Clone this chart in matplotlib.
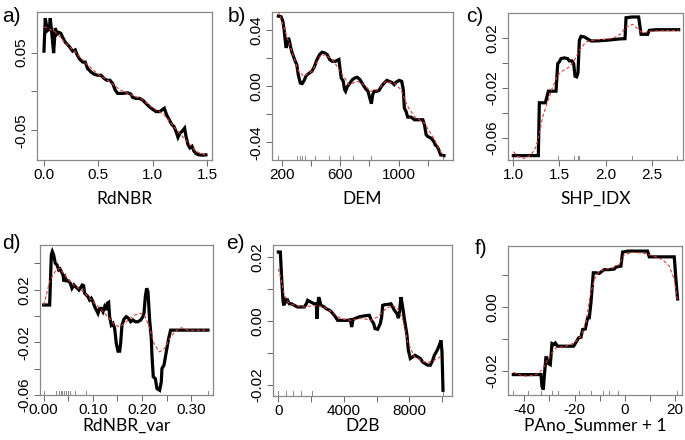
import matplotlib.pyplot as plt

# a) RdNBR
rdnbr_x = [0.0, 0.012, 0.031, 0.049, 0.058, 0.074, 0.089, 0.104, 0.120, 0.135, 0.156, 0.172, 0.196, 0.233,
           0.264, 0.288, 0.301, 0.325, 0.356, 0.380, 0.402, 0.432, 0.463, 0.494, 0.524, 0.555, 0.577, 0.607,
           0.632, 0.656, 0.678, 0.724, 0.770, 0.800, 0.816, 0.846, 0.877, 0.908, 0.938, 0.969, 1.000, 1.031,
           1.067, 1.086, 1.107, 1.129, 1.153, 1.178, 1.196, 1.215, 1.233, 1.251, 1.270, 1.294, 1.307, 1.325,
           1.343, 1.362, 1.380, 1.398, 1.423, 1.460, 1.490]
rdnbr_y = [0.0517, 0.0941, 0.078, 0.080, 0.0941, 0.0717, 0.0492, 0.0814, 0.0738, 0.0759, 0.0746, 0.0695,
           0.0632, 0.0577, 0.0517, 0.0534, 0.0483, 0.0420, 0.0377, 0.0377, 0.0293, 0.0250, 0.0220, 0.0208,
           0.0208, 0.0165, 0.0144, 0.0144, 0.0102, 0.0017, -0.0025, -0.0025, -0.0017, -0.0034, -0.0076,
           -0.0089, -0.0089, -0.0110, -0.0153, -0.0195, -0.0229, -0.0259, -0.0259, -0.0237, -0.0216, -0.0301,
           -0.0365, -0.0428, -0.0449, -0.0513, -0.0589, -0.0534, -0.0513, -0.0471, -0.0577, -0.0683, -0.0725,
           -0.0704, -0.0767, -0.0797, -0.0814, -0.0818, -0.0814]
rdnbr_sx = [0.0, 0.1, 0.2, 0.3, 0.4, 0.5, 0.6, 0.7, 0.8, 0.9, 1.0, 1.1, 1.2, 1.3, 1.4, 1.49]
rdnbr_sy = [0.083, 0.077, 0.062, 0.049, 0.034, 0.022, 0.013, 0.002, -0.004, -0.010, -0.021, -0.029,
            -0.046, -0.062, -0.077, -0.082]

# b) DEM
dem_x = [175, 193, 205, 214, 221, 228, 237, 244, 251, 260, 269, 278, 290, 301, 311, 325, 338, 352, 366, 382,
         405, 421, 440, 458, 474, 490, 509, 527, 543, 567, 590, 597, 606, 620, 629, 636, 647, 666, 682, 700,
         716, 735, 751, 774, 790, 802, 813, 822, 832, 850, 866, 882, 901, 919, 935, 952, 970, 981, 1004, 1021,
         1032, 1039, 1051, 1062, 1085, 1108, 1131, 1166, 1177, 1189, 1200, 1223, 1242, 1251, 1265, 1276,
         1288, 1311]
dem_y = [0.0497, 0.0493, 0.0462, 0.0402, 0.0331, 0.0271, 0.0307, 0.0343, 0.0319, 0.0271, 0.0236, 0.0212,
         0.0176, 0.0152, 0.0081, 0.0021, 0.0017, 0.0040, 0.0074, 0.0088, 0.0105, 0.0136, 0.0188, 0.0224,
         0.0240, 0.0236, 0.0224, 0.0188, 0.0176, 0.0176, 0.0188, 0.0129, 0.0057, 0.0033, -0.0026, -0.0038,
         -0.0007, 0.0021, 0.0045, 0.0057, 0.0062, 0.0045, 0.0017, -0.0021, -0.0038, -0.0086, -0.0126,
         -0.0062, -0.0038, -0.0038, -0.0031, -0.0002, 0.0021, 0.0040, 0.0033, 0.0026, 0.0010, 0.0026, 0.0040,
         0.0033, -0.0026, -0.0157, -0.0181, -0.0221, -0.0221, -0.0240, -0.0240, -0.0240, -0.0276, -0.0347,
         -0.0359, -0.0371, -0.0395, -0.0419, -0.0431, -0.0455, -0.0490, -0.0495]
dem_sx = [175, 232, 278, 313, 348, 405, 463, 497, 555, 613, 659, 716, 762, 809, 855, 912, 970, 1016, 1062,
          1108, 1177, 1247, 1304]
dem_sy = [0.0533, 0.0355, 0.0212, 0.0105, 0.0069, 0.0105, 0.0212, 0.0224, 0.0176, 0.0081, 0.0010, 0.0033,
          0.0010, -0.0038, -0.0026, 0.0033, 0.0021, -0.0026, -0.0145, -0.0217, -0.0264, -0.0383, -0.0502]
dem_rug = [175, 301, 320, 336, 357, 424, 520, 596, 686, 813, 1306]

# c) SHP_IDX
shp_x = [1.000, 1.271, 1.282, 1.347, 1.380, 1.463, 1.481, 1.499, 1.517, 1.553, 1.589, 1.607, 1.636, 1.654,
         1.669, 1.687, 1.701, 1.716, 1.734, 1.770, 1.806, 1.842, 1.897, 2.005, 2.077, 2.150, 2.211, 2.222,
         2.287, 2.359, 2.385, 2.457, 2.475, 2.547, 2.793]
shp_y = [-0.0741, -0.0741, -0.0317, -0.0317, -0.0224, -0.0224, -0.0003, 0.0011, 0.0037, 0.0043, 0.0037,
         0.0019, 0.0019, -0.0003, -0.0104, -0.0109, -0.0077, 0.0184, 0.0216, 0.0211, 0.0195, 0.0179, 0.0179,
         0.0184, 0.0189, 0.0195, 0.0197, 0.0365, 0.0371, 0.0371, 0.0232, 0.0232, 0.0264, 0.0269, 0.0269]
shp_sx = [1.000, 1.047, 1.119, 1.192, 1.246, 1.282, 1.318, 1.372, 1.427, 1.481, 1.535, 1.607, 1.662, 1.716,
          1.788, 1.897, 2.005, 2.095, 2.168, 2.222, 2.294, 2.348, 2.403, 2.511, 2.793]
shp_sy = [-0.0709, -0.0749, -0.0763, -0.0736, -0.0669, -0.0563, -0.0429, -0.0309, -0.0189, -0.0096,
          -0.0061, -0.0029, 0.0024, 0.0104, 0.0171, 0.0189, 0.0192, 0.0205, 0.0237, 0.0291, 0.0312, 0.0277,
          0.0243, 0.0259, 0.0264]
shp_rug = [1.0, 1.48, 1.66, 1.70, 1.71, 2.29, 2.78]

# d) RdNBR_var
var_x = [0.0, 0.0122, 0.0156, 0.0176, 0.0203, 0.0237, 0.0271, 0.0305, 0.0332, 0.0359, 0.0393, 0.0413,
         0.0440, 0.0467, 0.0508, 0.0542, 0.0575, 0.0616, 0.0643, 0.0684, 0.0718, 0.0751, 0.0785, 0.0812,
         0.0833, 0.0867, 0.0900, 0.0934, 0.0968, 0.1002, 0.1036, 0.1070, 0.1104, 0.1137, 0.1171, 0.1205,
         0.1239, 0.1273, 0.1293, 0.1320, 0.1340, 0.1374, 0.1408, 0.1442, 0.1476, 0.1510, 0.1544, 0.1564,
         0.1591, 0.1632, 0.1679, 0.1726, 0.1767, 0.1814, 0.1862, 0.1916, 0.1970, 0.2017, 0.2038, 0.2065,
         0.2092, 0.2119, 0.2153, 0.2187, 0.2200, 0.2227, 0.2268, 0.2302, 0.2356, 0.2390, 0.2403, 0.2444,
         0.2491, 0.2539, 0.2579, 0.3338]
var_y = [0.0084, 0.0084, 0.0465, 0.0490, 0.0465, 0.0401, 0.0389, 0.0351, 0.0358, 0.0338, 0.0312, 0.0262,
         0.0292, 0.0267, 0.0267, 0.0249, 0.0211, 0.0236, 0.0224, 0.0211, 0.0198, 0.0216, 0.0236, 0.0231,
         0.0173, 0.0160, 0.0147, 0.0122, 0.0135, 0.0109, 0.0071, 0.0046, 0.0020, 0.0058, 0.0058, 0.0033,
         0.0071, 0.0046, 0.0097, 0.0104, -0.0005, -0.0069, -0.0056, -0.0094, -0.0208, -0.0267, -0.0267,
         -0.0208, -0.0069, -0.0023, -0.0005, -0.0018, -0.0043, -0.0030, -0.0043, -0.0043, -0.0030, -0.0005,
         0.0020, 0.0147, 0.0211, 0.0185, -0.0030, -0.0170, -0.0297, -0.0462, -0.0475, -0.0551, -0.0564,
         -0.0500, -0.0399, -0.0373, -0.0272, -0.0170, -0.0107, -0.0107]
var_sx = [0.0, 0.0054, 0.0122, 0.0190, 0.0257, 0.0325, 0.0427, 0.0562, 0.0765, 0.0968, 0.1171, 0.1307,
          0.1442, 0.1544, 0.1679, 0.1848, 0.1984, 0.2065, 0.2153, 0.2254, 0.2356, 0.2458, 0.2559, 0.2661,
          0.2796, 0.2931, 0.3338]
var_sy = [0.0084, 0.0160, 0.0262, 0.0312, 0.0351, 0.0363, 0.0312, 0.0249, 0.0198, 0.0122, 0.0046, -0.0005,
          -0.0069, -0.0081, -0.0043, 0.0008, 0.0020, -0.0005, -0.0094, -0.0221, -0.0272, -0.0246, -0.0170,
          -0.0119, -0.0089, -0.0107, -0.0107]
var_rug = [0.0, 0.0257, 0.0305, 0.0345, 0.0379, 0.0413, 0.0454, 0.0494, 0.0542, 0.0630, 0.0853, 0.334]

# e) D2B
d2b_x = [0, 122, 204, 285, 326, 407, 468, 570, 672, 814, 977, 1181, 1384, 1588, 1710, 1792, 1893, 2036, 2199,
         2321, 2362, 2402, 2464, 2525, 2606, 2810, 2911, 3115, 3217, 3420, 3624, 3929, 4235, 4398, 4479,
         4561, 4744, 4947, 5253, 5558, 5660, 5823, 5904, 6067, 6230, 6312, 6373, 6474, 6678, 6882, 6983,
         7085, 7248, 7330, 7391, 7492, 7594, 7696, 7859, 7940, 8063, 8205, 8348, 8510, 8673, 8816, 8958,
         9121, 9284, 9427, 9528, 9651, 9732, 9834, 9936, 9997, 10058]
d2b_y = [0.0217, 0.0217, 0.0133, 0.0065, 0.0049, 0.0072, 0.0060, 0.0065, 0.0054, 0.0054, 0.0049, 0.0044,
         0.0044, 0.0044, 0.0054, 0.0065, 0.0062, 0.0058, 0.0054, 0.0054, 0.0007, 0.0044, 0.0075, 0.0065,
         0.0049, 0.0044, 0.0039, 0.0034, 0.0030, 0.0018, 0.0002, 0.0002, 0.0002, 0.0004, -0.0019, 0.0005,
         0.0009, 0.0013, 0.0016, 0.0018, 0.0005, -0.0008, -0.0024, -0.0026, -0.0008, 0.0013, 0.0049, 0.0051,
         0.0052, 0.0054, 0.0044, 0.0034, 0.0023, 0.0009, 0.0023, 0.0075, 0.0044, 0.0007, -0.0045, -0.0092,
         -0.0118, -0.0113, -0.0108, -0.0113, -0.0118, -0.0129, -0.0134, -0.0139, -0.0139, -0.0124, -0.0108,
         -0.0097, -0.0089, -0.0076, -0.0061, -0.0097, -0.0218]
d2b_sx = [0, 163, 366, 570, 977, 1588, 2199, 2810, 3420, 3828, 4438, 5049, 5660, 6067, 6576, 6983, 7289,
          7594, 7900, 8307, 8918, 9325, 9732, 10038]
d2b_sy = [0.0164, 0.0133, 0.0081, 0.0060, 0.0049, 0.0044, 0.0049, 0.0044, 0.0023, 0.0007, 0.0002, 0.0009,
          0.0002, 0.0013, 0.0039, 0.0049, 0.0039, 0.0007, -0.0066, -0.0113, -0.0129, -0.0129, -0.0118,
          -0.0108]
d2b_rug = [0, 450, 900, 1400, 2040, 10058]

# f) PAno_Summer + 1
pano_x = [-44.38, -33.37, -32.97, -32.44, -32.04, -31.37, -30.31, -29.65, -28.99, -28.32, -27.66, -26.73,
          -25.40, -22.75, -20.36, -19.43, -18.37, -17.44, -16.78, -15.72, -14.79, -14.12, -13.46, -12.53,
          -11.47, -10.14, -9.08, -8.15, -6.16, -4.17, -3.51, -1.52, -0.85, 1.14, 5.78, 9.10, 9.76, 13.74,
          16.40, 19.72, 20.38, 21.04]
pano_y = [-0.0211, -0.0211, -0.0248, -0.0258, -0.0216, -0.0154, -0.0177, -0.0180, -0.0114, -0.0117,
          -0.0112, -0.0122, -0.0122, -0.0122, -0.0122, -0.0110, -0.0096, -0.0094, -0.0070, -0.0068, -0.0033,
          -0.0033, 0.0014, 0.0108, 0.0108, 0.0106, 0.0113, 0.0118, 0.0118, 0.0120, 0.0126, 0.0129, 0.0173,
          0.0176, 0.0176, 0.0176, 0.0158, 0.0158, 0.0158, 0.0158, 0.0087, 0.0026]
pano_sx = [-44.38, -41.99, -39.34, -36.68, -34.03, -32.04, -30.05, -27.39, -23.41, -20.10, -17.44, -15.45,
           -13.86, -12.13, -10.14, -7.49, -4.83, -2.18, -0.19, 3.13, 7.11, 11.09, 15.07, 17.72, 19.72, 21.04]
pano_sy = [-0.0204, -0.0211, -0.0216, -0.0214, -0.0206, -0.0185, -0.0154, -0.0127, -0.0122, -0.0112,
           -0.0091, -0.0049, 0.0034, 0.0087, 0.0113, 0.0120, 0.0123, 0.0134, 0.0165, 0.0172, 0.0170, 0.0162,
           0.0149, 0.0129, 0.0087, 0.0019]
pano_rug = [-44.4, -38.7, -33.4, -29.0, -26.7, -18.1, -13.5, -8.8, -6.4, -2.8, 20.9]

W, H = 685, 440
fig = plt.figure(figsize=(6.85, 4.40), dpi=100)

# panel: (letter, xlabel, x, y, sx, sy, rug, box px (l, t, r, b), xlim, ylim, xticks, xlabels, yticks, ylabels,
#         letter pos, xlabel pad)
panels = [
    ('a)', 'RdNBR', rdnbr_x, rdnbr_y, rdnbr_sx, rdnbr_sy, [], (37, 12, 212, 160), (-0.064, 1.546), (-0.088, 0.102),
     [0, 0.5, 1.0, 1.5], ['0.0', '0.5', '1.0', '1.5'], [-0.05, 0, 0.05], ['-0.05', '', '0.05'], (2, 16), 6),
    ('b)', 'DEM', dem_x, dem_y, dem_sx, dem_sy, dem_rug, (272, 12, 453, 160), (131, 1373), (-0.0526, 0.0526),
     [200, 400, 600, 800, 1000, 1200], ['200', '', '600', '', '1000', ''],
     [-0.04, -0.02, 0, 0.02, 0.04], ['-0.04', '', '0.00', '', '0.04'], (228, 16), 6),
    ('c)', 'SHP_IDX', shp_x, shp_y, shp_sx, shp_sy, shp_rug, (508, 13, 683, 160), (0.942, 2.84), (-0.0776, 0.0403),
     [1.0, 1.5, 2.0, 2.5], ['1.0', '1.5', '2.0', '2.5'],
     [-0.06, -0.04, -0.02, 0, 0.02], ['-0.06', '', '-0.02', '', '0.02'], (466, 17), 6),
    ('d)', 'RdNBR_var', var_x, var_y, var_sx, var_sy, var_rug, (40, 245, 213, 395), (-0.0074, 0.344), (-0.060, 0.054),
     [0, 0.05, 0.10, 0.15, 0.20, 0.25, 0.30], ['0.00', '', '0.10', '', '0.20', '', '0.30'],
     [-0.06, -0.04, -0.02, 0, 0.02, 0.04], ['-0.06', '', '-0.02', '', '0.02', ''], (2, 243), 0),
    ('e)', 'D2B', d2b_x, d2b_y, d2b_sx, d2b_sy, d2b_rug, (273, 245, 452, 396), (-326, 10608), (-0.0236, 0.0239),
     [0, 2000, 4000, 6000, 8000, 10000], ['0', '', '4000', '', '8000', ''],
     [-0.02, -0.01, 0, 0.01, 0.02], ['-0.02', '', '0.00', '', '0.02'], (226, 243), 0),
    ('f)', 'PAno_Summer + 1', pano_x, pano_y, pano_sx, pano_sy, pano_rug, (508, 246, 682, 395), (-46.5, 22.8),
     (-0.0275, 0.0192), [-40, -30, -20, -10, 0, 10, 20], ['-40', '', '-20', '', '0', '', '20'],
     [-0.02, -0.01, 0, 0.01], ['-0.02', '', '0.00', ''], (475, 249), 0),
]

for (letter, xlab, x, y, sx, sy, rug, box, xlim, ylim, xt, xtl, yt, ytl, lpos, lpad) in panels:
    l, t, r, b = box
    ax = fig.add_axes([l / W, 1 - b / H, (r - l) / W, (b - t) / H])
    ax.plot(x, y, color='black', lw=2.3, solid_joinstyle='miter', zorder=3)
    ax.plot(sx, sy, color='#e03c3c', lw=0.8, ls=(0, (3, 2)), zorder=4)
    for v in rug:
        ax.axvline(v, ymin=0, ymax=0.03, color='#888888', lw=0.7)
    ax.set_xlim(*xlim)
    ax.set_ylim(*ylim)
    ax.set_xticks(xt)
    ax.set_xticklabels(xtl, family='Liberation Sans', fontsize=11)
    ax.set_yticks(yt)
    ax.set_yticklabels(ytl, family='Liberation Sans', fontsize=11, rotation=90, va='center')
    ax.tick_params(length=4, width=0.7, color='#666666', pad=2)
    for s in ax.spines.values():
        s.set_color('#888888')
        s.set_linewidth(0.9)
    ax.set_xlabel(xlab, family='Lato', fontsize=12.5, labelpad=lpad)
    fig.text(lpos[0] / W, 1 - lpos[1] / H, letter, family='Liberation Sans', fontsize=15, va='center', ha='left')

fig.savefig('out.png', dpi=100)
